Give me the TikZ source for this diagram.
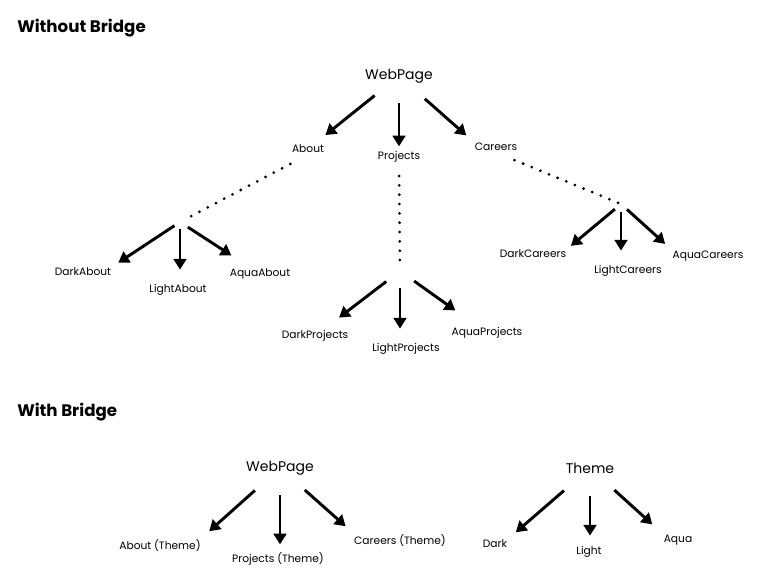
\documentclass[tikz,border=0pt]{standalone}
\usepackage{fontspec}
\setmainfont{Poppins}
\usetikzlibrary{arrows.meta,positioning,calc}

\begin{document}
\begin{tikzpicture}[
    x=0.75pt, y=-0.75pt,
    leaf/.style={inner sep=1pt, font=\fontsize{8}{9}\selectfont},
    root/.style={inner sep=1pt, font=\fontsize{10.5}{12}\selectfont},
    title/.style={anchor=west, inner sep=0pt, font=\fontsize{12.5}{14}\selectfont\bfseries},
    arrow/.style={-{Triangle[length=8pt,width=9.5pt]}, line width=2.2pt},
    dots/.style={line width=2.3pt, line cap=round, dash pattern=on 0pt off 7pt}
]
\useasboundingbox (0,0) rectangle (762,576);

% Without Bridge
\node[title] (t1) at (17,28) {Without Bridge};
\node[root] (web) at (399,76) {WebPage};
\node[leaf] (about) at (308,149) {About};
\node[leaf] (proj) at (399,157) {Projects};
\node[leaf] (car) at (496,147) {Careers};

\draw[arrow, shorten <=13pt, shorten >=10pt] (web) -- (about);
\draw[arrow, shorten <=13.5pt, shorten >=8pt] (web) -- (web |- proj);
\draw[arrow, shorten <=16pt, shorten >=7pt] (web) -- (car.north west);

% the hidden levels
\coordinate (splA) at (180,222);
\coordinate (splP) at (400,271);
\coordinate (splC) at (621,204);
\draw[dots, shorten <=15pt, shorten >=6pt] (about.south) -- (splA);
\draw[dots, shorten <=9pt, shorten >=3pt] (proj.south) -- (splP);
\draw[dots, shorten <=15pt] (car.south) -- (splC);

\node[leaf] (dab) at (83,272) {DarkAbout};
\node[leaf] (lab) at (178,290) {LightAbout};
\node[leaf] (aab) at (260,274) {AquaAbout};
\draw[arrow, shorten <=5pt, shorten >=5pt] (splA) -- (dab.north east);
\draw[arrow, shorten <=5pt, shorten >=10pt] (splA) -- (splA |- lab.north);
\draw[arrow, shorten <=7pt, shorten >=16pt] (splA) -- (aab);

\node[leaf] (dpr) at (315,336) {DarkProjects};
\node[leaf] (lpr) at (406,349) {LightProjects};
\node[leaf] (apr) at (487,333) {AquaProjects};
\draw[arrow, shorten <=13pt, shorten >=14pt] (splP) -- (dpr);
\draw[arrow, shorten <=13pt, shorten >=10pt] (splP) -- (splP |- lpr.north);
\draw[arrow, shorten <=13pt, shorten >=20pt] (splP) -- (apr);

\node[leaf] (dca) at (533,254) {DarkCareers};
\node[leaf] (lca) at (628,271) {LightCareers};
\node[leaf] (aca) at (708,256) {AquaCareers};
\draw[arrow, shorten <=6pt, shorten >=3pt] (splC) -- (dca.north east);
\draw[arrow, shorten <=6pt, shorten >=10pt] (splC) -- (splC |- lca.north);
\draw[arrow, shorten <=6pt, shorten >=6pt] (splC) -- (aca.north west);

% With Bridge
\node[title] (t2) at (17,412) {With Bridge};
\node[root] (wb) at (280,468) {WebPage};
\node[leaf] (abt) at (160,545) {About (Theme)};
\node[leaf] (pth) at (278,559) {Projects (Theme)};
\node[leaf] (cth) at (400,540) {Careers (Theme)};
\draw[arrow, shorten <=15.5pt, shorten >=7pt] (wb) -- (abt.north east);
\draw[arrow, shorten <=14pt, shorten >=5pt] (wb) -- (wb |- pth.north);
\draw[arrow, shorten <=15pt, shorten >=7pt] (wb) -- (cth.north west);

\node[root] (thm) at (590,468) {Theme};
\node[leaf] (drk) at (495,544) {Dark};
\node[leaf] (lgt) at (589,552) {Light};
\node[leaf] (aqu) at (678,540) {Aqua};
\draw[arrow, shorten <=18pt, shorten >=7pt] (thm) -- (drk.north east);
\draw[arrow, shorten <=16pt, shorten >=7pt] (thm) -- (thm |- lgt.north);
\draw[arrow, shorten <=17pt, shorten >=10pt] (thm) -- (aqu.north west);
\end{tikzpicture}
\end{document}
